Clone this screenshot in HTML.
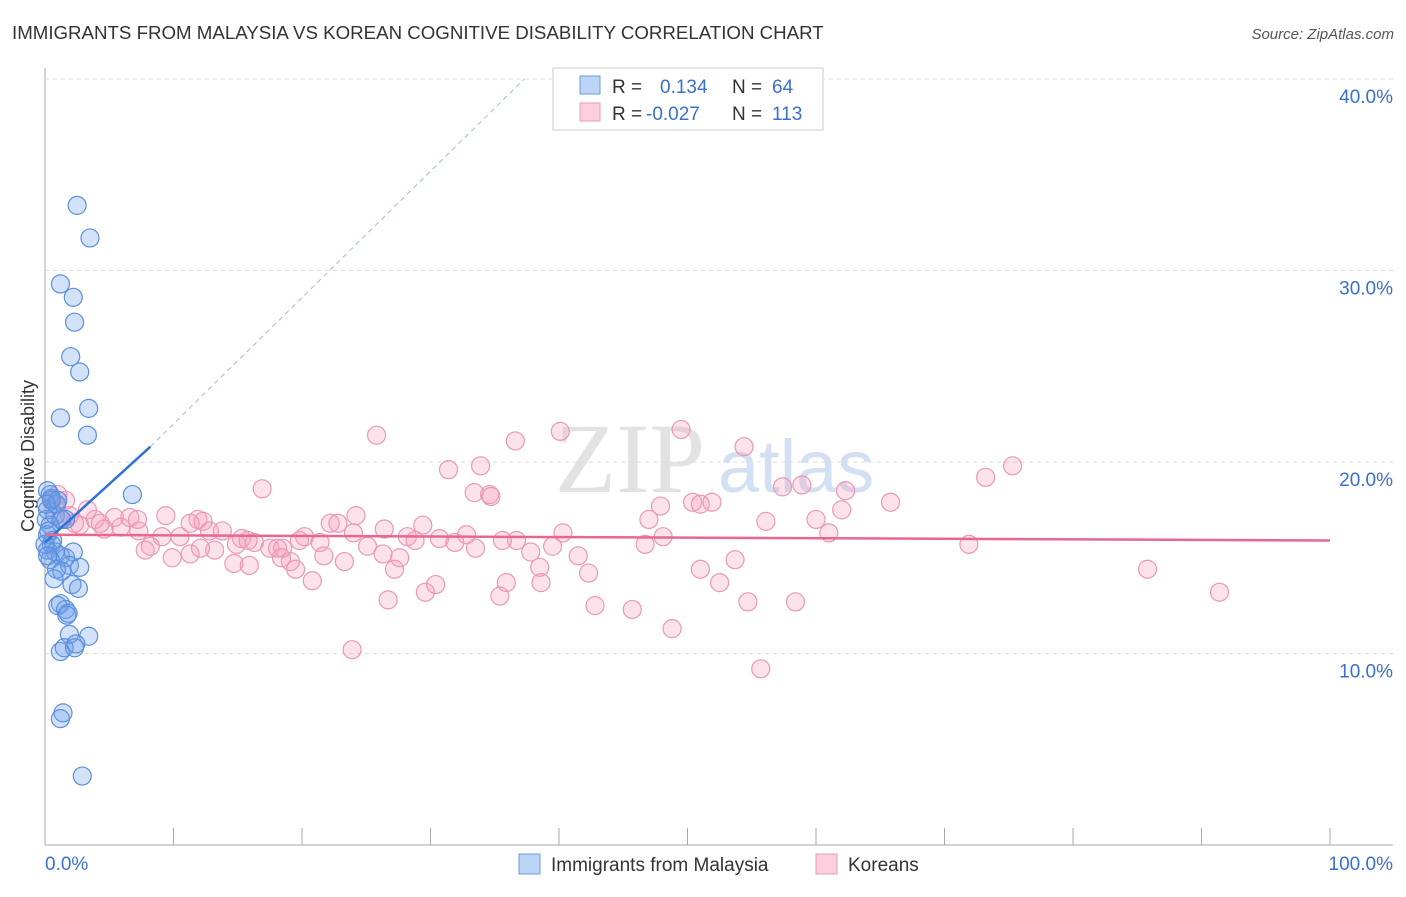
<!DOCTYPE html>
<html><head><meta charset="utf-8"><style>
body{margin:0;background:#fff;font-family:"Liberation Sans",sans-serif}
</style></head><body>
<svg width="1406" height="892" xmlns="http://www.w3.org/2000/svg" id="chart">
<text x="12" y="39" font-size="18.7" fill="#333">IMMIGRANTS FROM MALAYSIA VS KOREAN COGNITIVE DISABILITY CORRELATION CHART</text>
<text x="1394" y="39" font-size="15" fill="#555" font-style="italic" text-anchor="end">Source: ZipAtlas.com</text>
<text x="555" y="492" font-size="100" fill="#e2e2e2" font-family="Liberation Serif">ZIP</text>
<text x="718" y="492" font-size="74" fill="#d3e0f3">atlas</text>
<text transform="translate(34,456) rotate(-90)" font-size="18" fill="#333" text-anchor="middle">Cognitive Disability</text>
<g id="grid"></g><g id="pts"></g><g id="trend"></g>
<g>
<rect x="553" y="68" width="270" height="62" fill="#fff" stroke="#ccc"/>
<rect x="580" y="76" width="20" height="18" fill="#bcd4f5" stroke="#6a9ee0"/>
<rect x="580" y="103" width="20" height="18" fill="#fbcfdd" stroke="#ec9ab6"/>
<text x="612" y="93" font-size="19" fill="#333">R = <tspan fill="#3a6fd0" x="660">0.134</tspan><tspan fill="#333" x="732">N = </tspan><tspan fill="#3a6fd0" x="772">64</tspan></text>
<text x="612" y="120" font-size="19" fill="#333">R = <tspan fill="#3a6fd0" x="646">-0.027</tspan><tspan fill="#333" x="732">N = </tspan><tspan fill="#3a6fd0" x="772">113</tspan></text>
</g>
<g>
<rect x="519" y="854" width="21" height="20" fill="#bcd4f5" stroke="#6a9ee0"/>
<text x="551" y="871" font-size="19" fill="#333">Immigrants from Malaysia</text>
<rect x="816" y="854" width="21" height="20" fill="#fbcfdd" stroke="#ec9ab6"/>
<text x="848" y="871" font-size="19" fill="#333">Koreans</text>
</g>
</svg>
<script>
const blueX=[2.5,3.5,1.2,2.2,2.3,2.0,2.7,3.4,1.2,3.3,6.8,0.2,0.4,0.5,0.2,0.8,1.6,0.4,0.2,0.5,0.2,0.8,1.2,1.6,2.2,0.4,1.9,2.7,0.9,1.3,2.1,2.6,1.2,1.0,1.6,1.8,1.7,1.9,3.4,1.2,1.5,2.3,2.4,1.4,1.2,2.9,0.6,0.1,0.3,0.9,1.3,0,0.7,0.2,0.5,1.0,0.1];
const blueY=[33.4,31.7,29.3,28.6,27.3,25.5,24.7,22.8,22.3,21.4,18.3,18.5,18.3,18.0,17.5,17.2,17.0,16.7,16.2,15.7,15.4,15.3,15.1,15.0,15.3,14.9,14.6,14.5,14.4,14.3,13.6,13.4,12.6,12.5,12.3,12.1,12.0,11.0,10.9,10.1,10.3,10.3,10.5,6.9,6.6,3.6,15.9,17.0,16.4,17.8,17.0,15.7,13.9,15.1,18.1,18.0,17.8];
const pinkX=[25.8,36.6,40.1,49.5,54.4,31.4,33.9,16.9,33.4,34.6,34.7,57.4,58.9,62.3,73.2,75.3,50.4,51.0,51.9,47.9,65.8,62.0,9.4,3.3,5.4,6.6,11.9,12.3,12.8,13.8,15.3,22.2,22.8,24.2,26.4,29.4,28.2,30.7,32.8,31.9,36.7,40.3,39.5,47.0,48.1,56.1,60.0,61.0,7.8,9.9,11.3,13.2,14.9,16.3,17.5,18.1,18.4,19.1,19.5,20.2,21.4,21.7,23.3,25.1,26.3,27.6,27.2,28.8,30.4,29.6,33.5,35.6,37.8,38.5,41.5,42.3,35.9,35.4,38.6,26.7,42.8,45.7,48.8,46.7,51.0,52.5,53.7,54.7,58.4,55.7,71.9,85.8,91.4,23.9,20.8,15.9,14.7,12.1,10.5,9.1,7.3,5.9,4.6,3.9,2.3,1.2,0.8,1.6,1.0,0.5,1.9,2.7,4.3,8.2,7.2,11.3,15.8,18.5,19.8,24.0];
const pinkY=[21.4,21.1,21.6,21.7,20.8,19.6,19.8,18.6,18.4,18.3,18.2,18.7,18.8,18.5,19.2,19.8,17.9,17.8,17.9,17.7,17.9,17.5,17.2,17.5,17.1,17.1,17.0,16.9,16.4,16.4,16.0,16.8,16.8,17.2,16.5,16.7,16.1,16.0,16.2,15.8,15.9,16.3,15.6,17.0,16.1,16.9,17.0,16.3,15.4,15.0,15.2,15.4,15.7,15.8,15.5,15.5,15.0,14.8,14.4,16.1,15.8,15.1,14.8,15.6,15.2,15.0,14.4,15.9,13.6,13.2,15.5,15.9,15.3,14.5,15.1,14.2,13.7,13.0,13.7,12.8,12.5,12.3,11.3,15.7,14.4,13.7,14.9,12.7,12.7,9.2,15.7,14.4,13.2,10.2,13.8,14.6,14.7,15.5,16.1,16.1,16.4,16.6,16.5,17.0,16.8,17.0,17.8,18.0,18.3,18.0,17.2,16.7,16.8,15.6,17.0,16.8,15.9,15.5,15.9,16.3];
const yTicks=[10,20,30,40];
const blueTrend=[15.8,20.8,40];const blueTrendX=[0,8.2,37.3];
const pinkTrend=[16.2,15.9];
const NS='http://www.w3.org/2000/svg';
const X=v=>45+v*12.85, Y=v=>845-v*19.15;
function mk(tag,at,parent){const e=document.createElementNS(NS,tag);for(const k in at)e.setAttribute(k,at[k]);document.getElementById(parent).appendChild(e);return e;}
let a=mk('line',{x1:45,y1:68,x2:45,y2:845,stroke:'#aaa'},'grid');


a=mk('line',{x1:45,y1:845,x2:1393,y2:845,stroke:'#aaa'},'grid');


for(let i=0;i<=10;i++){const t=mk('line',{x1:X(i*10),y1:828,x2:X(i*10),y2:845,stroke:'#aaa'},'grid');

}
yTicks.forEach(v=>{const g=mk('line',{x1:45,y1:Y(v),x2:1393,y2:Y(v),stroke:'#ddd','stroke-dasharray':'4,4'},'grid');


const t=mk('text',{x:1393,y:Y(v)+24,'font-size':19,fill:'#3a6fd0','text-anchor':'end'},'grid');t.textContent=v.toFixed(1)+'%';

});
let t=mk('text',{x:45,y:870,'font-size':19,fill:'#3a6fd0'},'grid');t.textContent='0.0%';


t=mk('text',{x:1393,y:870,'font-size':19,fill:'#3a6fd0','text-anchor':'end'},'grid');t.textContent='100.0%';


pinkX.forEach((v,i)=>{const c=mk('circle',{cx:X(v),cy:Y(pinkY[i]),r:9,fill:'rgba(244,160,190,0.3)',stroke:'#eb98b5','stroke-width':1.2},'pts');

});
blueX.forEach((v,i)=>{const c=mk('circle',{cx:X(v),cy:Y(blueY[i]),r:9,fill:'rgba(110,160,235,0.3)',stroke:'#5b8fdc','stroke-width':1.2},'pts');

});
let l=mk('line',{x1:X(blueTrendX[0]),y1:Y(blueTrend[0]),x2:X(blueTrendX[1]),y2:Y(blueTrend[1]),stroke:'#2f72d6','stroke-width':2.5},'trend');


l=mk('line',{x1:X(blueTrendX[1]),y1:Y(blueTrend[1]),x2:X(blueTrendX[2]),y2:Y(blueTrend[2]),stroke:'#9bbbe8','stroke-width':1,'stroke-dasharray':'5,4'},'trend');


l=mk('line',{x1:X(0),y1:Y(pinkTrend[0]),x2:X(100),y2:Y(pinkTrend[1]),stroke:'#e8678f','stroke-width':2.5},'trend');


</script>
</body></html>
